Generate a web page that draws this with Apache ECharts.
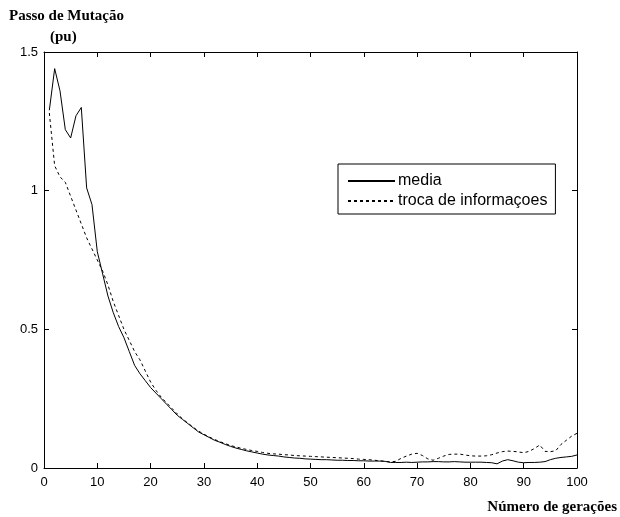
<!DOCTYPE html>
<html>
<head>
<meta charset="utf-8">
<title>Passo de Mutação</title>
<script src="https://cdn.jsdelivr.net/npm/echarts@6/dist/echarts.min.js"></script>
<style>
    html, body { margin: 0; padding: 0; background: #fff; }
    #chart { width: 620px; height: 517px; }
</style>
</head>
<body>
<div id="chart"></div>
<script>
// número de gerações
const geracoes = [
    1, 2, 3, 4, 5, 6, 7, 8, 9, 10, 11, 12, 13, 14, 15, 16, 17, 18, 19, 20,
    21, 22, 23, 24, 25, 26, 27, 28, 29, 30, 31, 32, 33, 34, 35, 36, 37, 38, 39, 40,
    41, 42, 43, 44, 45, 46, 47, 48, 49, 50, 51, 52, 53, 54, 55, 56, 57, 58, 59, 60,
    61, 62, 63, 64, 65, 66, 67, 68, 69, 70, 71, 72, 73, 74, 75, 76, 77, 78, 79, 80,
    81, 82, 83, 84, 85, 86, 87, 88, 89, 90, 91, 92, 93, 94, 95, 96, 97, 98, 99, 100
];
// media (linha cheia)
const media = [
    1.29, 1.44, 1.36, 1.22, 1.19, 1.27, 1.30, 1.01, 0.95, 0.78,
    0.70, 0.62, 0.56, 0.51, 0.47, 0.42, 0.37, 0.34, 0.315, 0.29,
    0.27, 0.25, 0.23, 0.21, 0.19, 0.175, 0.16, 0.145, 0.13, 0.12,
    0.11, 0.10, 0.093, 0.085, 0.078, 0.072, 0.067, 0.062, 0.058, 0.054,
    0.050, 0.047, 0.045, 0.043, 0.040, 0.038, 0.036, 0.035, 0.033, 0.032,
    0.031, 0.030, 0.030, 0.029, 0.028, 0.028, 0.027, 0.027, 0.026, 0.026,
    0.025, 0.025, 0.025, 0.024, 0.020, 0.020, 0.020, 0.021, 0.020, 0.021,
    0.022, 0.022, 0.023, 0.023, 0.022, 0.022, 0.023, 0.022, 0.021, 0.021,
    0.021, 0.021, 0.020, 0.019, 0.015, 0.025, 0.030, 0.026, 0.021, 0.019,
    0.020, 0.020, 0.021, 0.023, 0.030, 0.035, 0.038, 0.040, 0.042, 0.047
];
// troca de informaçoes (linha tracejada)
const troca = [
    1.28, 1.09, 1.05, 1.03, 0.98, 0.93, 0.88, 0.83, 0.79, 0.75,
    0.71, 0.66, 0.60, 0.55, 0.50, 0.46, 0.42, 0.39, 0.35, 0.31,
    0.28, 0.255, 0.235, 0.215, 0.195, 0.177, 0.162, 0.147, 0.133, 0.122,
    0.112, 0.103, 0.095, 0.088, 0.081, 0.076, 0.071, 0.067, 0.063, 0.060,
    0.056, 0.053, 0.051, 0.050, 0.048, 0.047, 0.045, 0.044, 0.043, 0.042,
    0.041, 0.040, 0.039, 0.038, 0.037, 0.036, 0.035, 0.034, 0.032, 0.031,
    0.030, 0.028, 0.026, 0.024, 0.022, 0.024, 0.035, 0.043, 0.050, 0.053,
    0.045, 0.033, 0.028, 0.035, 0.043, 0.049, 0.050, 0.050, 0.047, 0.044,
    0.043, 0.043, 0.044, 0.048, 0.054, 0.059, 0.061, 0.060, 0.058, 0.055,
    0.060, 0.070, 0.083, 0.060, 0.059, 0.062, 0.085, 0.100, 0.115, 0.125
];
const xTicks = [0, 100, 10]; // min, max, intervalo
const yTicks = [0, 1.5, 0.5];

const chart = echarts.init(document.getElementById('chart'));

const labelFont = {
    fontFamily: 'Liberation Sans, Arial, sans-serif',
    fontSize: 13,
    color: '#000'
};
const serifFont = {
    fontFamily: 'Liberation Serif, Times New Roman, serif',
    fontSize: 15,
    fontWeight: 'bold',
    color: '#000'
};
const axisLine = {show: true, onZero: false, lineStyle: {color: '#000', width: 1}};
const axisTick = {show: true, inside: true, length: 5, lineStyle: {color: '#000', width: 1}};

chart.setOption({
    animation: false,
    backgroundColor: '#fff',
    title: [
        {text: 'Passo de Mutação', left: 9, top: 9, padding: 0, textStyle: serifFont},
        {text: '(pu)', left: 50, top: 30, padding: 0, textStyle: serifFont},
        {text: 'Número de gerações', right: 3, top: 500, padding: 0, textStyle: serifFont}
    ],
    grid: {
        left: 44,
        right: 43,
        top: 52,
        bottom: 49,
        containLabel: false
    },
    legend: {
        orient: 'vertical',
        left: 338,
        top: 164,
        itemWidth: 47,
        itemHeight: 14,
        itemGap: 4,
        padding: [9, 8, 5, 9],
        borderColor: '#000',
        borderWidth: 1,
        backgroundColor: '#fff',
        itemStyle: {opacity: 0},
        textStyle: Object.assign({}, labelFont, {fontSize: 16, padding: [0, 0, 0, -2]}),
        data: ['media', 'troca de informaçoes']
    },
    xAxis: [
        {
            type: 'value',
            min: xTicks[0],
            max: xTicks[1],
            interval: xTicks[2],
            position: 'bottom',
            axisLine: axisLine,
            axisTick: axisTick,
            axisLabel: Object.assign({margin: 8}, labelFont),
            splitLine: {show: false}
        },
        {
            type: 'value',
            min: xTicks[0],
            max: xTicks[1],
            interval: xTicks[2],
            position: 'top',
            axisLine: axisLine,
            axisTick: axisTick,
            axisLabel: {show: false},
            splitLine: {show: false}
        }
    ],
    yAxis: [
        {
            type: 'value',
            min: yTicks[0],
            max: yTicks[1],
            interval: yTicks[2],
            position: 'left',
            axisLine: axisLine,
            axisTick: axisTick,
            axisLabel: Object.assign({margin: 6}, labelFont),
            splitLine: {show: false}
        },
        {
            type: 'value',
            min: yTicks[0],
            max: yTicks[1],
            interval: yTicks[2],
            position: 'right',
            axisLine: axisLine,
            axisTick: axisTick,
            axisLabel: {show: false},
            splitLine: {show: false}
        }
    ],
    series: [
        {
            name: 'media',
            type: 'line',
            symbol: 'none',
            data: geracoes.map((g, i) => [g, media[i]]),
            lineStyle: {color: '#000', width: 1, type: 'solid'},
            itemStyle: {color: '#000'}
        },
        {
            name: 'troca de informaçoes',
            type: 'line',
            symbol: 'none',
            data: geracoes.map((g, i) => [g, troca[i]]),
            lineStyle: {color: '#000', width: 1, type: [3, 3]},
            itemStyle: {color: '#000'}
        }
    ]
});
</script>
</body>
</html>
